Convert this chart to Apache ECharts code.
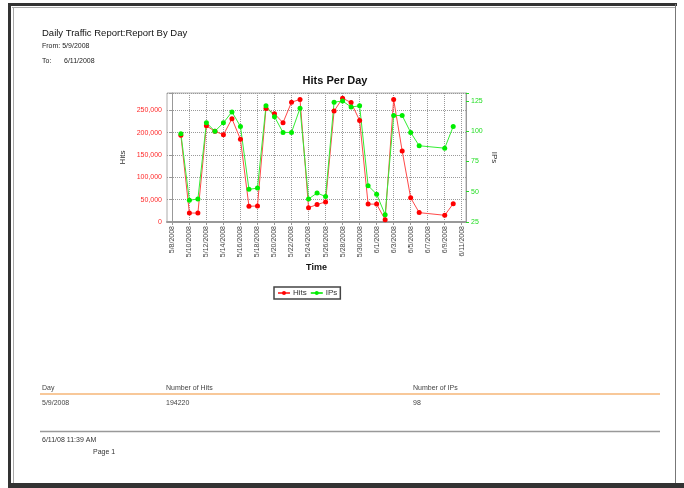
<!DOCTYPE html>
<html>
<head>
<meta charset="utf-8">
<script src="https://cdn.jsdelivr.net/npm/echarts@6/dist/echarts.min.js"></script>
<style>
  html, body { margin: 0; padding: 0; background: #ffffff; }
  #chart { width: 684px; height: 488px; }
</style>
</head>
<body>
<div id="chart"></div>
<script>
// Daily traffic, 5/9/2008 - 6/10/2008
const days = ['5/9/2008','5/10/2008','5/11/2008','5/12/2008','5/13/2008','5/14/2008','5/15/2008','5/16/2008',
  '5/17/2008','5/18/2008','5/19/2008','5/20/2008','5/21/2008','5/22/2008','5/23/2008','5/24/2008',
  '5/25/2008','5/26/2008','5/27/2008','5/28/2008','5/29/2008','5/30/2008','5/31/2008','6/1/2008',
  '6/2/2008','6/3/2008','6/4/2008','6/5/2008','6/6/2008','6/9/2008','6/10/2008'];
const hits = [194220, 20000, 20000, 215000, 203000, 195000, 231000, 185000,
  35000, 36000, 254000, 242000, 222000, 268000, 274000, 32000,
  39000, 45000, 248000, 277000, 267000, 227000, 40000, 40000,
  5000, 274000, 159000, 54000, 21000, 15000, 41000];
const ips = [98, 43, 44, 107, 100, 107, 116, 104,
  52, 53, 121, 112, 99, 99, 119, 44,
  49, 46, 124, 125, 120, 121, 55, 48,
  31, 113, 113, 99, 88, 86, 104];
const tickDates = ['5/8/2008','5/10/2008','5/12/2008','5/14/2008','5/16/2008','5/18/2008','5/20/2008',
  '5/22/2008','5/24/2008','5/26/2008','5/28/2008','5/30/2008','6/1/2008','6/3/2008','6/5/2008',
  '6/7/2008','6/9/2008','6/11/2008'];
const hitsTicks = [0, 50000, 100000, 150000, 200000, 250000];
const ipsTicks = [25, 50, 75, 100, 125];

// day number counted from 5/8/2008
const origin = Date.UTC(2008, 4, 8);
function dayNum(s) {
  const p = s.split('/').map(Number);
  return Math.round((Date.UTC(p[2], p[0] - 1, p[1]) - origin) / 86400000);
}
const tickVals = tickDates.map(dayNum);
const labelOf = {};
tickDates.forEach(function (d) { labelOf[dayNum(d)] = d; });

const hitsData = days.map(function (d, i) { return [dayNum(d), hits[i]]; });
const ipsData = days.map(function (d, i) { return [dayNum(d), ips[i]]; });

const FONT = 'Arial, "Liberation Sans", sans-serif';
const chart = echarts.init(document.getElementById('chart'), null, { renderer: 'canvas' });

function txt(x, y, s, size, color, weight) {
  return { type: 'text', left: x, top: y, silent: true,
    style: { text: s, fontSize: size, fontFamily: FONT, fill: color || '#222', fontWeight: weight || 'normal' } };
}
function hline(x1, x2, y, color, w) {
  return { type: 'line', silent: true, shape: { x1: x1, y1: y, x2: x2, y2: y },
    style: { stroke: color, lineWidth: w } };
}
function vline(x, y1, y2, color, w) {
  return { type: 'line', silent: true, shape: { x1: x, y1: y1, x2: x, y2: y2 },
    style: { stroke: color, lineWidth: w } };
}

const option = {
  backgroundColor: '#ffffff',
  animation: false,
  textStyle: { fontFamily: FONT },
  title: {
    text: 'Hits Per Day', left: 330, top: 70, textAlign: 'center',
    textStyle: { fontSize: 11, fontWeight: 'bold', color: '#111', fontFamily: FONT }
  },
  legend: {
    data: ['Hits', 'IPs'], left: 274, top: 287,
    borderColor: '#444', borderWidth: 1.5, padding: [2, 3, 2, 3],
    itemWidth: 12, itemHeight: 5, itemGap: 3,
    textStyle: { fontSize: 8, color: '#333', fontFamily: FONT, padding: [0, 0, 0, -2] }
  },
  grid: { left: 167, top: 93, width: 299, height: 129, show: true, borderColor: '#aaa', borderWidth: 1 },
  xAxis: {
    type: 'value', min: -0.63, max: 34.5,
    name: 'Time', nameLocation: 'middle', nameGap: 41,
    nameTextStyle: { fontSize: 9, fontWeight: 'bold', color: '#111', fontFamily: FONT },
    axisLine: { lineStyle: { color: '#999', width: 2 } },
    axisTick: { show: true, length: 3, customValues: tickVals, lineStyle: { color: '#999' } },
    axisLabel: { customValues: tickVals, rotate: 90, fontSize: 7, color: '#444', margin: 4,
      formatter: function (v) { return labelOf[Math.round(v)] || ''; } },
    splitLine: { show: true, customValues: tickVals, lineStyle: { type: 'dotted', color: '#999' } }
  },
  yAxis: [{
    type: 'value', min: 0, max: 288500, interval: 50000,
    name: 'Hits', nameLocation: 'middle', nameGap: 40,
    nameTextStyle: { fontSize: 8, color: '#333', fontFamily: FONT },
    axisLine: { show: true, lineStyle: { color: '#999' } },
    axisTick: { show: true, length: 3, lineStyle: { color: '#999' } },
    axisLabel: { fontSize: 7, color: '#ff2a2a', margin: 5,
      formatter: function (v) { return hitsTicks.indexOf(v) >= 0 ? v.toLocaleString('en-US') : ''; } },
    splitLine: { show: true, lineStyle: { type: 'dotted', color: '#999' } }
  }, {
    type: 'value', min: 25, max: 131.6, interval: 25, position: 'right',
    name: 'IPs', nameLocation: 'middle', nameGap: 24, nameRotate: -90,
    nameTextStyle: { fontSize: 8, color: '#333', fontFamily: FONT },
    axisLine: { show: true, lineStyle: { color: '#999' } },
    axisTick: { show: true, length: 3, lineStyle: { color: '#22dd22' } },
    axisLabel: { fontSize: 7, color: '#22dd22', margin: 5,
      formatter: function (v) { return ipsTicks.indexOf(v) >= 0 ? String(v) : ''; } },
    splitLine: { show: false }
  }],
  series: [{
    name: 'Hits', type: 'line', yAxisIndex: 0, data: hitsData,
    symbol: 'circle', symbolSize: 5, showSymbol: true,
    itemStyle: { color: '#ff0000' },
    lineStyle: { color: '#ff4848', width: 1 }
  }, {
    name: 'IPs', type: 'line', yAxisIndex: 1, data: ipsData,
    symbol: 'circle', symbolSize: 5, showSymbol: true,
    itemStyle: { color: '#00ee00' },
    lineStyle: { color: '#33ee33', width: 1 }
  }],
  graphic: [
    // page frame
    vline(9.5, 3, 486, '#333', 3),
    hline(8, 677, 4.5, '#333', 3),
    hline(8, 684, 485.5, '#333', 5),
    vline(13.5, 7, 483, '#aaa', 1),
    hline(12, 676, 7.5, '#aaa', 1),
    vline(675.5, 4, 483, '#777', 1),
    // report header
    txt(42, 28, 'Daily Traffic Report:Report By Day', 9.5, '#111'),
    txt(42, 43, 'From: 5/9/2008', 7, '#222'),
    txt(42, 58, 'To:', 7, '#222'),
    txt(64, 58, '6/11/2008', 7, '#222'),
    // summary table
    txt(42, 385, 'Day', 7, '#444'),
    txt(166, 385, 'Number of Hits', 7, '#444'),
    txt(413, 385, 'Number of IPs', 7, '#444'),
    hline(40, 660, 394, '#f8c899', 2),
    txt(42, 400, '5/9/2008', 7, '#444'),
    txt(166, 400, '194220', 7, '#444'),
    txt(413, 400, '98', 7, '#444'),
    // footer
    hline(40, 660, 431.5, '#999', 1.5),
    txt(42, 437, '6/11/08 11:39 AM', 7, '#333'),
    txt(93, 449, 'Page 1', 7, '#333')
  ]
};
chart.setOption(option);
</script>
</body>
</html>
